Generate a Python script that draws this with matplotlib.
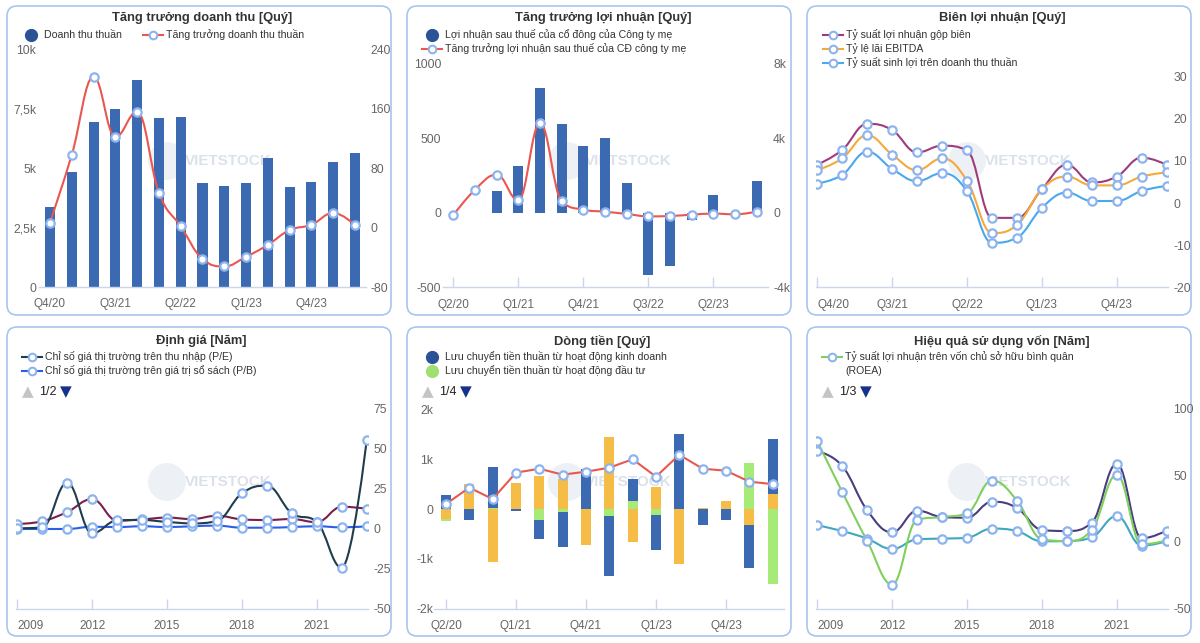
import numpy as np
import matplotlib
matplotlib.use("Agg")
import matplotlib.pyplot as plt
from matplotlib.path import Path
from matplotlib.patches import PathPatch, FancyBboxPatch, Circle

plt.rcParams['font.family'] = ['Liberation Sans', 'DejaVu Sans']
plt.rcParams['axes.unicode_minus'] = False

# ---------------- DATA ----------------
q_rev = ['Q4/20', 'Q1/21', 'Q2/21', 'Q3/21', 'Q4/21', 'Q1/22', 'Q2/22', 'Q3/22',
         'Q4/22', 'Q1/23', 'Q2/23', 'Q3/23', 'Q4/23', 'Q1/24', 'Q2/24']
revenue = [3370, 4840, 6950, 7480, 8710, 7130, 7170, 4390, 4260, 4360, 5450, 4210, 4430, 5270, 5630]
revenue_growth = [7, 98, 203, 122, 156, 47, 2, -42, -52, -39, -23, -3, 4, 20, 4]

q_np = ['Q2/20', 'Q3/20', 'Q4/20', 'Q1/21', 'Q2/21', 'Q3/21', 'Q4/21', 'Q1/22',
        'Q2/22', 'Q3/22', 'Q4/22', 'Q1/23', 'Q2/23', 'Q3/23', 'Q4/23']
net_profit = [np.nan, np.nan, 146, 311, 838, 597, 445, 501, 198, -414, -356, -50, 119, -17, 211]
net_profit_growth = [-120, 1240, 2050, 670, 4810, 620, 170, 60, -60, -190, -170, -100, -40, -80, 60]

q_margin = q_rev
gross_margin = [9.1, 12.6, 18.8, 17.3, 12.0, 13.6, 12.5, -3.5, -3.5, 3.3, 9.1, 4.9, 6.3, 10.8, 9.1]
ebitda_margin = [7.8, 10.6, 16.1, 11.5, 7.8, 10.6, 5.3, -7.1, -5.2, 3.3, 6.3, 4.2, 4.2, 6.3, 7.3]
net_margin = [4.6, 6.7, 12.2, 8.1, 5.2, 7.1, 2.8, -9.4, -8.2, -1.1, 2.5, 0.5, 0.5, 2.9, 4.1]

years = list(range(2009, 2024))
pe = [0.1, 0.7, 28.6, -3.0, 5.1, 5.3, 4.1, 3.2, 4.7, 22.0, 26.8, 9.5, 4.1, -24.5, 55.3]
pb = [-0.3, -0.3, -0.3, 1.1, 0.9, 1.4, 0.9, 1.4, 1.8, 0.5, 0.5, 0.9, 1.4, 0.7, 1.4]
val3 = [2.8, 4.5, 10.3, 18.4, 4.9, 5.7, 6.8, 5.9, 8.0, 5.7, 5.3, 5.9, 3.9, 13.6, 12.4]

q_cf = ['Q2/20', 'Q3/20', 'Q4/20', 'Q1/21', 'Q2/21', 'Q3/21', 'Q4/21', 'Q1/22',
        'Q2/22', 'Q1/23', 'Q2/23', 'Q3/23', 'Q4/23', 'Q1/24', 'Q2/24']
cf_operating = [280, -220, 830, -40, -380, -690, 800, -1200, 430, -700, 1500, -330, -220, -850, 1100]
cf_investing = [-50, 0, 20, 0, -220, -70, 0, -150, 170, -130, 0, 0, 0, 930, -1500]
cf_financing = [-200, 500, -1060, 530, 670, 600, -730, 1450, -670, 450, -1100, 30, 170, -330, 300]
cf_line = [100, 430, 200, 730, 810, 690, 750, 830, 1000, 650, 1090, 810, 770, 550, 500]

roea = [75.4, 37.4, 0.6, -32.0, 16.6, 18.6, 21.4, 46.0, 31.0, 1.9, 0.6, 9.1, 50.4, -1.9, 0.9]
eff2 = [68.0, 56.9, 23.6, 7.1, 23.4, 18.6, 18.1, 30.1, 25.4, 8.9, 8.1, 14.4, 58.6, 2.6, 8.4]
eff3 = [12.4, 8.1, 2.4, -5.4, 1.9, 2.4, 3.1, 9.9, 8.1, 0.4, 0.6, 3.4, 19.4, -2.9, 0.4]

# ---------------- STYLE ----------------
W, H = 1200, 643
BAR_BLUE = '#3b69b2'
LEG_BLUE = '#2c5296'
RED = '#e9574f'
MK_EDGE = '#8db4ee'
AXIS_C = '#ccd6eb'
LBL_C = '#666666'
TXT_C = '#333333'
LW = 1.5

fig = plt.figure(figsize=(W / 100, H / 100), dpi=100)
bg = fig.add_axes([0, 0, 1, 1])
bg.set_xlim(0, W)
bg.set_ylim(H, 0)
bg.axis('off')

panels = [(7, 6), (407, 6), (807, 6), (7, 327), (407, 327), (807, 327)]
for (px, py) in panels:
    bg.add_patch(FancyBboxPatch((px, py), 384, 309,
                                boxstyle="round,pad=0,rounding_size=10",
                                fc='white', ec='#a9c5ee', lw=1.2))
    cx, cy = px + 160, py + 155
    bg.add_patch(Circle((cx, cy), 19, fc='#dfe5ee', ec='none', alpha=0.55))
    bg.text(cx + 18, cy, 'VIETSTOCK', fontsize=11, fontweight='bold',
            color='#d3dae6', alpha=0.8, va='center', ha='left')


def rect(x0, x1, y0, y1):
    return [x0 / W, 1 - y1 / H, (x1 - x0) / W, (y1 - y0) / H]


def hc_spline_path(xs, ys):
    xs = np.asarray(xs, float)
    ys = np.asarray(ys, float)
    n = len(xs)
    lc = [(xs[i], ys[i]) for i in range(n)]
    rc = [(xs[i], ys[i]) for i in range(n)]
    sm, den = 1.5, 2.5
    for i in range(1, n - 1):
        lx, ly = xs[i - 1], ys[i - 1]
        nx, ny = xs[i + 1], ys[i + 1]
        px, py = xs[i], ys[i]
        lcx = (sm * px + lx) / den
        lcy = (sm * py + ly) / den
        rcx = (sm * px + nx) / den
        rcy = (sm * py + ny) / den
        if rcx != lcx:
            corr = ((rcy - lcy) * (rcx - px)) / (rcx - lcx) + py - rcy
            lcy += corr
            rcy += corr
        if lcy > ly and lcy > py:
            lcy = max(ly, py); rcy = 2 * py - lcy
        elif lcy < ly and lcy < py:
            lcy = min(ly, py); rcy = 2 * py - lcy
        if rcy > ny and rcy > py:
            rcy = max(ny, py); lcy = 2 * py - rcy
        elif rcy < ny and rcy < py:
            rcy = min(ny, py); lcy = 2 * py - rcy
        lc[i] = (lcx, lcy)
        rc[i] = (rcx, rcy)
    verts = [(xs[0], ys[0])]
    codes = [Path.MOVETO]
    for i in range(1, n):
        verts += [rc[i - 1], lc[i], (xs[i], ys[i])]
        codes += [Path.CURVE4] * 3
    return Path(verts, codes)


def spline(ax, xs, ys, color, z=3):
    ax.add_patch(PathPatch(hc_spline_path(xs, ys), fc='none', ec=color, lw=LW, zorder=z,
                           capstyle='round', joinstyle='round'))
    ax.plot(xs, ys, ls='none', marker='o', ms=6, mfc='white', mec=MK_EDGE, mew=1.6, zorder=z + 1)


def style_ax(ax, ticks_x=True):
    ax.set_facecolor('none')
    for s in ['top', 'left', 'right']:
        ax.spines[s].set_visible(False)
    ax.spines['bottom'].set_color(AXIS_C)
    ax.spines['bottom'].set_linewidth(1)
    ax.tick_params(axis='y', length=0, colors=LBL_C, labelsize=8.7)
    ax.tick_params(axis='x', direction='in', length=7.5 if ticks_x else 0, color=AXIS_C,
                   labelcolor=LBL_C, labelsize=8.5, pad=8, width=1)


def hide_all_spines(ax):
    for s in ax.spines.values():
        s.set_visible(False)


def title(x, y, t):
    bg.text(x, y, t, fontsize=9.3, fontweight='bold', color=TXT_C, ha='center', va='center')


def leg_circle(x, y, color, t):
    bg.plot([x], [y], 'o', ms=8.5, color=color)
    bg.text(x + 13, y, t, fontsize=7.6, color=TXT_C, va='center', ha='left')


def leg_line(x, y, color, t):
    bg.plot([x, x + 20], [y, y], color=color, lw=LW)
    bg.plot([x + 10], [y], 'o', ms=5.5, mfc='white', mec=MK_EDGE, mew=1.5)
    bg.text(x + 23, y, t, fontsize=7.6, color=TXT_C, va='center', ha='left')


def pager(x, y, t):
    bg.text(x, y, '▲', fontsize=11, color='#c4c4c4', ha='center', va='center',
            family=['DejaVu Sans'])
    bg.text(x + 11, y, t, fontsize=9, color='#222222', ha='left', va='center')
    bg.text(x + 38, y, '▼', fontsize=11, color='#17308c', ha='center', va='center',
            family=['DejaVu Sans'])


def set_cat_ticks(ax, positions, labels, first_left=False):
    ax.set_xticks(positions)
    ax.set_xticklabels(labels)
    if first_left:
        ax.get_xticklabels()[0].set_horizontalalignment('left')


# ---------------- PANEL 1 ----------------
ax = fig.add_axes(rect(39.1, 365.9, 49.2, 287.3))
style_ax(ax, ticks_x=False)
x = np.arange(len(q_rev))
ax.bar(x, revenue, width=0.46, color=BAR_BLUE, zorder=2)
ax.set_xlim(-0.5, len(q_rev) - 0.5)
ax.set_ylim(0, 10000)
ax.set_yticks([0, 2500, 5000, 7500, 10000])
ax.set_yticklabels(['0', '2,5k', '5k', '7,5k', '10k'])
ax.tick_params(axis='y', pad=2)
set_cat_ticks(ax, x[::3], q_rev[::3])
ax2 = ax.twinx()
hide_all_spines(ax2)
ax2.set_facecolor('none')
ax2.set_ylim(-80, 240)
ax2.set_yticks([-80, 0, 80, 160, 240])
ax2.tick_params(axis='y', length=0, colors=LBL_C, labelsize=8.7, pad=3)
spline(ax2, x, revenue_growth, RED)
title(202, 18, 'Tăng trưởng doanh thu [Quý]')
leg_circle(31, 35, LEG_BLUE, 'Doanh thu thuần')
leg_line(143, 35, RED, 'Tăng trưởng doanh thu thuần')

# ---------------- PANEL 2 ----------------
ax = fig.add_axes(rect(442.5, 767.5, 63.5, 287.5))
style_ax(ax)
x = np.arange(len(q_np))
ax.bar(x, net_profit, width=0.46, color=BAR_BLUE, zorder=2)
ax.set_xlim(-0.5, len(q_np) - 0.5)
ax.set_ylim(-500, 1000)
ax.set_yticks([-500, 0, 500, 1000])
ax.tick_params(axis='y', pad=1)
set_cat_ticks(ax, x[::3], q_np[::3])
ax2 = ax.twinx()
hide_all_spines(ax2)
ax2.set_facecolor('none')
ax2.set_ylim(-4000, 8000)
ax2.set_yticks([-4000, 0, 4000, 8000])
ax2.set_yticklabels(['-4k', '0', '4k', '8k'])
ax2.tick_params(axis='y', length=0, colors=LBL_C, labelsize=8.7, pad=4)
spline(ax2, x, net_profit_growth, RED)
title(603, 18, 'Tăng trưởng lợi nhuận [Quý]')
leg_circle(432, 35, LEG_BLUE, 'Lợi nhuận sau thuế của cổ đông của Công ty mẹ')
leg_line(422, 49, RED, 'Tăng trưởng lợi nhuận sau thuế của CĐ công ty mẹ')

# ---------------- PANEL 3 ----------------
ax = fig.add_axes(rect(816.3, 1167.7, 76.5, 287.5))
style_ax(ax)
ax.yaxis.tick_right()
ax.tick_params(axis='y', pad=4)
x = np.arange(len(q_margin))
ax.set_xlim(-0.04, len(q_margin) - 1 + 0.04)
ax.set_ylim(-20, 30)
ax.set_yticks([-20, -10, 0, 10, 20, 30])
set_cat_ticks(ax, x[::3], q_margin[::3], first_left=True)
C_PUR, C_ORA, C_BLU = '#9e3c7b', '#f4a93a', '#4aa8ec'
spline(ax, x, gross_margin, C_PUR)
spline(ax, x, ebitda_margin, C_ORA)
spline(ax, x, net_margin, C_BLU)
title(1002, 18, 'Biên lợi nhuận [Quý]')
leg_line(823, 35, C_PUR, 'Tỷ suất lợi nhuận gộp biên')
leg_line(823, 49, C_ORA, 'Tỷ lệ lãi EBITDA')
leg_line(823, 63, C_BLU, 'Tỷ suất sinh lợi trên doanh thu thuần')

# ---------------- PANEL 4 ----------------
ax = fig.add_axes(rect(16.3, 367.7, 408.5, 608.5))
style_ax(ax)
ax.yaxis.tick_right()
ax.tick_params(axis='y', pad=4)
ax.set_xlim(years[0] - 0.04, years[-1] + 0.04)
ax.set_ylim(-50, 75)
ax.set_yticks([-50, -25, 0, 25, 50, 75])
set_cat_ticks(ax, years[::3], [str(y) for y in years[::3]], first_left=True)
C_PE, C_PB, C_V3 = '#1f3d4d', '#2b5de6', '#7a1e4e'
spline(ax, years, val3, C_V3)
spline(ax, years, pb, C_PB)
spline(ax, years, pe, C_PE)
title(201, 341, 'Định giá [Năm]')
leg_line(22, 357, C_PE, 'Chỉ số giá thị trường trên thu nhập (P/E)')
leg_line(22, 371, C_PB, 'Chỉ số giá thị trường trên giá trị sổ sách (P/B)')
pager(28, 392, '1/2')

# ---------------- PANEL 5 ----------------
ax = fig.add_axes(rect(434.3, 784.3, 409.5, 608.5))
style_ax(ax)
ax.tick_params(axis='y', pad=1)
x = np.arange(len(q_cf))
C_G, C_O = '#a6ea78', '#f5bd45'
pos = np.zeros(len(x))
neg = np.zeros(len(x))
for vals, col in [(cf_financing, C_O), (cf_investing, C_G), (cf_operating, BAR_BLUE)]:
    v = np.asarray(vals, float)
    bottom = np.where(v >= 0, pos, neg)
    ax.bar(x, v, bottom=bottom, width=0.43, color=col, zorder=2)
    pos = pos + np.where(v >= 0, v, 0)
    neg = neg + np.where(v < 0, v, 0)
ax.plot(x, cf_line, color=RED, lw=LW, zorder=3)
ax.plot(x, cf_line, ls='none', marker='o', ms=6, mfc='white', mec=MK_EDGE, mew=1.6, zorder=4)
ax.set_xlim(-0.5, len(q_cf) - 0.5)
ax.set_ylim(-2000, 2000)
ax.set_yticks([-2000, -1000, 0, 1000, 2000])
ax.set_yticklabels(['-2k', '-1k', '0', '1k', '2k'])
set_cat_ticks(ax, x[::3], q_cf[::3])
title(602, 341, 'Dòng tiền [Quý]')
leg_circle(432, 357, LEG_BLUE, 'Lưu chuyển tiền thuần từ hoạt động kinh doanh')
leg_circle(432, 371, '#9fe070', 'Lưu chuyển tiền thuần từ hoạt động đầu tư')
pager(428, 392, '1/4')

# ---------------- PANEL 6 ----------------
ax = fig.add_axes(rect(816.3, 1167.7, 408.5, 608.5))
style_ax(ax)
ax.yaxis.tick_right()
ax.tick_params(axis='y', pad=4)
ax.set_xlim(years[0] - 0.04, years[-1] + 0.04)
ax.set_ylim(-50, 100)
ax.set_yticks([-50, 0, 50, 100])
set_cat_ticks(ax, years[::3], [str(y) for y in years[::3]], first_left=True)
C_GR, C_DP, C_TE = '#7fd05c', '#4a3e7d', '#3fa8bd'
spline(ax, years, eff3, C_TE)
spline(ax, years, eff2, C_DP)
spline(ax, years, roea, C_GR)
title(1002, 341, 'Hiệu quả sử dụng vốn [Năm]')
leg_line(822, 357, C_GR, 'Tỷ suất lợi nhuận trên vốn chủ sở hữu bình quân')
bg.text(845, 371, '(ROEA)', fontsize=7.6, color=TXT_C, va='center', ha='left')
pager(828, 392, '1/3')

fig.savefig('out.png', dpi=100)
